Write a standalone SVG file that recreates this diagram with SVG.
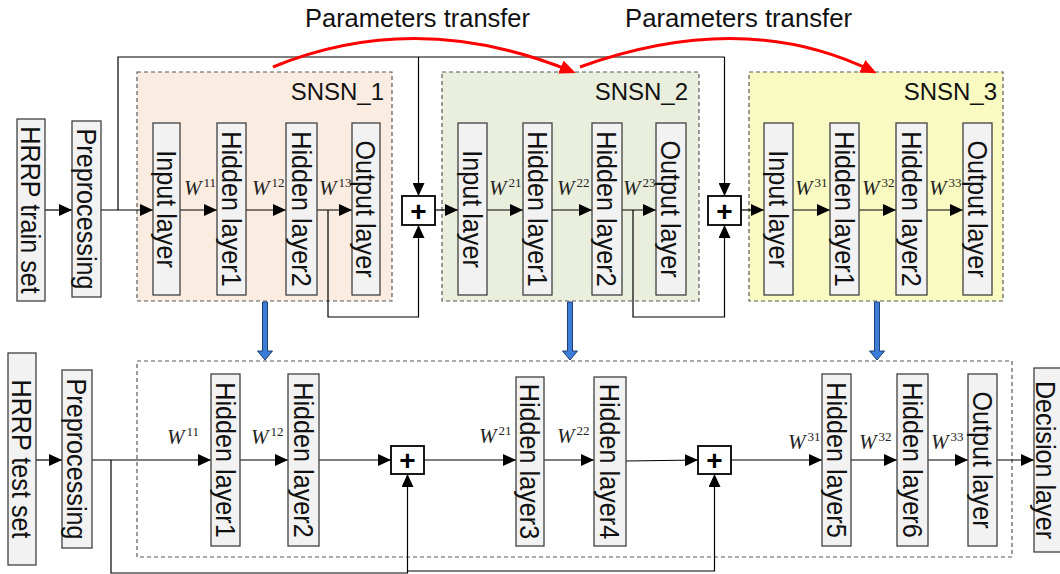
<svg xmlns="http://www.w3.org/2000/svg" width="1060" height="574" viewBox="0 0 1060 574">
<defs>
<style>
.bg{fill:#ffffff}
.grp{stroke:#595959;stroke-width:1.2;stroke-dasharray:4 3}
.box{fill:#f2f2f2;stroke:#404040;stroke-width:1.3}
.lbl{font-family:"Liberation Sans",Arial,sans-serif;font-size:28px;fill:#111;text-anchor:middle}
.snsn{font-family:"Liberation Sans",Arial,sans-serif;font-size:24px;fill:#111;text-anchor:end}
.pt{font-family:"Liberation Sans",Arial,sans-serif;font-size:26px;fill:#111}
.w{font-family:"Liberation Serif","Times New Roman",serif;font-size:21px;fill:#222}
.w .i{font-style:italic}
.w .s{font-size:13px}
.plus{fill:#fff;stroke:#000;stroke-width:1.8}
.pl{font-family:"Liberation Sans",Arial,sans-serif;font-size:28px;font-weight:bold;fill:#000;text-anchor:middle}
.ln{fill:none;stroke:#000;stroke-width:1.2}
.ar{marker-end:url(#ah)}
.red{fill:none;stroke:#ff0000;stroke-width:3;marker-end:url(#ahr)}
.blue{fill:#3b7dd8;stroke:#1f3f6e;stroke-width:1}
</style>
<marker id="ah" markerWidth="13" markerHeight="12" refX="13" refY="6" orient="auto" markerUnits="userSpaceOnUse"><path d="M0,0 L13,6 L0,12 Z" fill="#000"/></marker>
<marker id="ahr" markerWidth="16" markerHeight="14" refX="12" refY="7" orient="auto" markerUnits="userSpaceOnUse"><path d="M0,0 L16,7 L0,14 Z" fill="#ff0000"/></marker>
</defs>
<rect class="bg" x="0" y="0" width="1060" height="574"/>

<!-- group containers -->
<g id="snsn1"><rect x="137" y="72" width="255" height="229" fill="#fbece1" class="grp"/><text class="snsn" x="384" y="100">SNSN_1</text></g>
<g id="snsn2"><rect x="442" y="72" width="257" height="229" fill="#eaeedc" class="grp"/><text class="snsn" x="688" y="100">SNSN_2</text></g>
<g id="snsn3"><rect x="749" y="72" width="254" height="229" fill="#f8fac2" class="grp"/><text class="snsn" x="997" y="100">SNSN_3</text></g>
<g id="testnet"><rect x="137" y="361" width="875" height="196" fill="none" class="grp"/></g>

<!-- connectors -->
<g id="connectors">
<path class="ln ar" d="M45,210 H72"/>
<path class="ln ar" d="M101,210 H153"/>
<path class="ln ar" d="M180,210 H217"/>
<path class="ln ar" d="M246,210 H286"/>
<path class="ln ar" d="M317,210 H352"/>
<path class="ln ar" d="M435,210 H458"/>
<path class="ln ar" d="M487,210 H523"/>
<path class="ln ar" d="M552,210 H592"/>
<path class="ln ar" d="M622,210 H656"/>
<path class="ln ar" d="M741,210 H764"/>
<path class="ln ar" d="M793,210 H830"/>
<path class="ln ar" d="M859,210 H896"/>
<path class="ln ar" d="M927,210 H963"/>
<path class="ln" d="M118,210 V57 H724.5"/>
<path class="ln ar" d="M418.5,57 V196"/>
<path class="ln ar" d="M724.5,57 V196"/>
<path class="ln ar" d="M328,210 V317 H418.5 V225"/>
<path class="ln ar" d="M633,210 V317 H724.5 V225"/>

<path class="ln ar" d="M36,460 H62"/>
<path class="ln ar" d="M92,460 H211"/>
<path class="ln ar" d="M240,460 H288"/>
<path class="ln ar" d="M319,460 H391"/>
<path class="ln ar" d="M424,460 H516"/>
<path class="ln ar" d="M544,460 H594"/>
<path class="ln ar" d="M626,461 L698,460"/>
<path class="ln ar" d="M731,460 H822"/>
<path class="ln ar" d="M851,460 H897"/>
<path class="ln ar" d="M928,460 H968"/>
<path class="ln ar" d="M997,460 H1034"/>
<path class="ln ar" d="M111,460 V573 H407.5 V474"/>
<path class="ln ar" d="M407.5,571 H714.5 V474"/>

<path class="red" d="M273,67 Q417,8 572,71.5"/>
<path class="red" d="M580,67 Q744,8 873,71.5"/>

<path class="blue" d="M262.5,302 H267.5 V351 H272.5 L265,360 L257.5,351 H262.5 Z"/>
<path class="blue" d="M567.5,302 H572.5 V351 H577.5 L570,360 L562.5,351 H567.5 Z"/>
<path class="blue" d="M874.5,302 H879.5 V351 H884.5 L877,360 L869.5,351 H874.5 Z"/>
</g>

<!-- labels -->
<g id="labels">
<text class="pt" x="305" y="27" textLength="225" lengthAdjust="spacingAndGlyphs">Parameters transfer</text>
<text class="pt" x="625" y="27" textLength="227" lengthAdjust="spacingAndGlyphs">Parameters transfer</text>

<text class="w" x="184" y="195"><tspan class="i">W</tspan><tspan class="s" dx="2" dy="-8">11</tspan></text>
<text class="w" x="252" y="195"><tspan class="i">W</tspan><tspan class="s" dx="2" dy="-8">12</tspan></text>
<text class="w" x="319" y="195"><tspan class="i">W</tspan><tspan class="s" dx="2" dy="-8">13</tspan></text>
<text class="w" x="489" y="195"><tspan class="i">W</tspan><tspan class="s" dx="2" dy="-8">21</tspan></text>
<text class="w" x="557" y="195"><tspan class="i">W</tspan><tspan class="s" dx="2" dy="-8">22</tspan></text>
<text class="w" x="623" y="195"><tspan class="i">W</tspan><tspan class="s" dx="2" dy="-8">23</tspan></text>
<text class="w" x="795" y="195"><tspan class="i">W</tspan><tspan class="s" dx="2" dy="-8">31</tspan></text>
<text class="w" x="862" y="195"><tspan class="i">W</tspan><tspan class="s" dx="2" dy="-8">32</tspan></text>
<text class="w" x="929" y="195"><tspan class="i">W</tspan><tspan class="s" dx="2" dy="-8">33</tspan></text>

<text class="w" x="167" y="444"><tspan class="i">W</tspan><tspan class="s" dx="2" dy="-8">11</tspan></text>
<text class="w" x="251" y="444"><tspan class="i">W</tspan><tspan class="s" dx="2" dy="-8">12</tspan></text>
<text class="w" x="479" y="443"><tspan class="i">W</tspan><tspan class="s" dx="2" dy="-8">21</tspan></text>
<text class="w" x="557" y="443"><tspan class="i">W</tspan><tspan class="s" dx="2" dy="-8">22</tspan></text>
<text class="w" x="788" y="449"><tspan class="i">W</tspan><tspan class="s" dx="2" dy="-8">31</tspan></text>
<text class="w" x="859" y="449"><tspan class="i">W</tspan><tspan class="s" dx="2" dy="-8">32</tspan></text>
<text class="w" x="931" y="449"><tspan class="i">W</tspan><tspan class="s" dx="2" dy="-8">33</tspan></text>
</g>

<!-- top nodes -->
<g id="train_set"><rect class="box" x="17" y="119" width="28" height="182"/><text class="lbl" transform="translate(31,210) rotate(90) scale(0.9,1)" dy="0.35em">HRRP train set</text></g>
<g id="pre_train"><rect class="box" x="72" y="121" width="29" height="176"/><text class="lbl" transform="translate(86.5,209) rotate(90) scale(0.9,1)" dy="0.35em">Preprocessing</text></g>

<g id="s1_in"><rect class="box" x="153" y="123" width="27" height="172"/><text class="lbl" transform="translate(166.5,209) rotate(90) scale(0.9,1)" dy="0.35em">Input layer</text></g>
<g id="s1_h1"><rect class="box" x="217" y="123" width="29" height="172"/><text class="lbl" transform="translate(231.5,209) rotate(90) scale(0.9,1)" dy="0.35em">Hidden layer1</text></g>
<g id="s1_h2"><rect class="box" x="286" y="123" width="31" height="172"/><text class="lbl" transform="translate(301.5,209) rotate(90) scale(0.9,1)" dy="0.35em">Hidden layer2</text></g>
<g id="s1_out"><rect class="box" x="352" y="123" width="28" height="172"/><text class="lbl" transform="translate(366,209) rotate(90) scale(0.9,1)" dy="0.35em">Output layer</text></g>

<g id="s2_in"><rect class="box" x="458" y="123" width="29" height="172"/><text class="lbl" transform="translate(472.5,209) rotate(90) scale(0.9,1)" dy="0.35em">Input layer</text></g>
<g id="s2_h1"><rect class="box" x="523" y="123" width="29" height="172"/><text class="lbl" transform="translate(537.5,209) rotate(90) scale(0.9,1)" dy="0.35em">Hidden layer1</text></g>
<g id="s2_h2"><rect class="box" x="592" y="123" width="30" height="172"/><text class="lbl" transform="translate(607,209) rotate(90) scale(0.9,1)" dy="0.35em">Hidden layer2</text></g>
<g id="s2_out"><rect class="box" x="656" y="123" width="30" height="172"/><text class="lbl" transform="translate(671,209) rotate(90) scale(0.9,1)" dy="0.35em">Output layer</text></g>

<g id="s3_in"><rect class="box" x="764" y="123" width="29" height="172"/><text class="lbl" transform="translate(778.5,209) rotate(90) scale(0.9,1)" dy="0.35em">Input layer</text></g>
<g id="s3_h1"><rect class="box" x="830" y="123" width="29" height="172"/><text class="lbl" transform="translate(844.5,209) rotate(90) scale(0.9,1)" dy="0.35em">Hidden layer1</text></g>
<g id="s3_h2"><rect class="box" x="896" y="123" width="31" height="172"/><text class="lbl" transform="translate(911.5,209) rotate(90) scale(0.9,1)" dy="0.35em">Hidden layer2</text></g>
<g id="s3_out"><rect class="box" x="963" y="123" width="29" height="172"/><text class="lbl" transform="translate(977.5,209) rotate(90) scale(0.9,1)" dy="0.35em">Output layer</text></g>

<g id="sum1"><rect class="plus" x="402" y="196" width="33" height="29"/><text class="pl" x="418.5" y="220.5">+</text></g>
<g id="sum2"><rect class="plus" x="708" y="196" width="33" height="29"/><text class="pl" x="724.5" y="220.5">+</text></g>

<!-- bottom nodes -->
<g id="test_set"><rect class="box" x="8" y="353" width="28" height="212"/><text class="lbl" transform="translate(22,459) rotate(90) scale(0.9,1)" dy="0.35em">HRRP test set</text></g>
<g id="pre_test"><rect class="box" x="62" y="370" width="30" height="178"/><text class="lbl" transform="translate(77,459) rotate(90) scale(0.9,1)" dy="0.35em">Preprocessing</text></g>
<g id="t_h1"><rect class="box" x="211" y="374" width="29" height="172"/><text class="lbl" transform="translate(225.5,460) rotate(90) scale(0.9,1)" dy="0.35em">Hidden layer1</text></g>
<g id="t_h2"><rect class="box" x="288" y="374" width="31" height="172"/><text class="lbl" transform="translate(303.5,460) rotate(90) scale(0.9,1)" dy="0.35em">Hidden layer2</text></g>
<g id="t_h3"><rect class="box" x="516" y="377" width="28" height="169"/><text class="lbl" transform="translate(530,461.5) rotate(90) scale(0.9,1)" dy="0.35em">Hidden layer3</text></g>
<g id="t_h4"><rect class="box" x="594" y="377" width="32" height="169"/><text class="lbl" transform="translate(610,461.5) rotate(90) scale(0.9,1)" dy="0.35em">Hidden layer4</text></g>
<g id="t_h5"><rect class="box" x="822" y="374" width="29" height="172"/><text class="lbl" transform="translate(836.5,460) rotate(90) scale(0.9,1)" dy="0.35em">Hidden layer5</text></g>
<g id="t_h6"><rect class="box" x="897" y="374" width="31" height="172"/><text class="lbl" transform="translate(912.5,460) rotate(90) scale(0.9,1)" dy="0.35em">Hidden layer6</text></g>
<g id="t_out"><rect class="box" x="968" y="374" width="29" height="172"/><text class="lbl" transform="translate(982.5,460) rotate(90) scale(0.9,1)" dy="0.35em">Output layer</text></g>
<g id="decision"><rect class="box" x="1034" y="368" width="32" height="184"/><text class="lbl" transform="translate(1046,460) rotate(90) scale(0.9,1)" dy="0.35em">Decision layer</text></g>

<g id="tsum1"><rect class="plus" x="391" y="446" width="33" height="28"/><text class="pl" x="407.5" y="470">+</text></g>
<g id="tsum2"><rect class="plus" x="698" y="446" width="33" height="28"/><text class="pl" x="714.5" y="470">+</text></g>
</svg>
